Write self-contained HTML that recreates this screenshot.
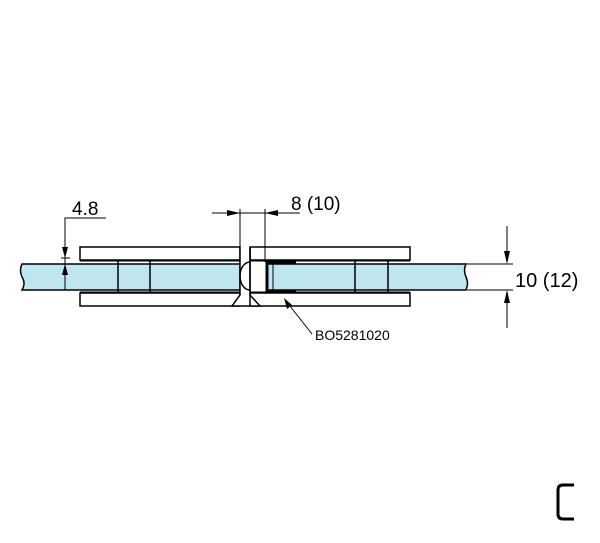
<!DOCTYPE html>
<html><head><style>html,body{margin:0;padding:0;background:#fff}svg{display:block}</style></head><body>
<svg width="600" height="543" viewBox="0 0 600 543" xmlns="http://www.w3.org/2000/svg" font-family="Liberation Sans, sans-serif">
<g stroke="#000" stroke-width="1.5" fill="none">
<path d="M22,264 L240,264 L240,290 L22,290 Q26,283 22,277 Q19,270 22,264Z" fill="#bfe5f1"/>
<path d="M267,264 L466,264 Q463,270 466,277 Q469,283 466,290 L267,290Z" fill="#bfe5f1"/>
<rect x="80" y="247" width="160" height="13" fill="#fff"/>
<rect x="250" y="247" width="160" height="13" fill="#fff"/>
<rect x="80" y="293" width="160" height="13" fill="#fff"/>
<rect x="250" y="293" width="160" height="13" fill="#fff"/>
<path d="M240,247 V295 L232,306 H260 L250,295 V247" fill="#fff"/>
<line x1="250" y1="247" x2="250" y2="306"/>
<path d="M250,262 A10,14 0 0 0 250,290"/>
<line x1="118" y1="261" x2="118" y2="293"/>
<line x1="150" y1="261" x2="150" y2="293"/>
<line x1="355" y1="261" x2="355" y2="293"/>
<line x1="388" y1="261" x2="388" y2="293"/>
<line x1="80" y1="261" x2="240" y2="261" stroke-width="1"/>
<line x1="250" y1="261" x2="410" y2="261" stroke-width="1"/>
<line x1="250" y1="292" x2="410" y2="292" stroke-width="1"/>
<line x1="80" y1="292" x2="240" y2="292" stroke-width="1"/>
</g>
<path d="M296,263 H267 V291 H296" stroke="#000" stroke-width="3" fill="none"/>
<line x1="273" y1="264" x2="273" y2="290" stroke="#000" stroke-width="1"/>
<g stroke="#000" stroke-width="1" fill="none">
<path d="M106,218 H65 V290"/>
<line x1="61" y1="258" x2="70" y2="258"/>
<line x1="61" y1="264" x2="70" y2="264"/>
<line x1="212" y1="213" x2="300" y2="213"/>
<line x1="240" y1="209" x2="240" y2="250"/>
<line x1="265" y1="209" x2="265" y2="262"/>
<line x1="467" y1="264" x2="513" y2="264"/>
<line x1="467" y1="290" x2="513" y2="290"/>
<line x1="507" y1="226" x2="507" y2="262"/>
<line x1="507" y1="292" x2="507" y2="328"/>
<line x1="286" y1="301" x2="312" y2="334"/>
</g>
<g fill="#000">
<path d="M65,258 L62,247 L68,247Z"/>
<path d="M65,264 L62,275 L68,275Z"/>
<path d="M240,213 L227,210 L227,216Z"/>
<path d="M265,213 L278,210 L278,216Z"/>
<path d="M507,264 L504,251 L510,251Z"/>
<path d="M507,290 L504,303 L510,303Z"/>
<path d="M284,298 L287,309 L292,305Z"/>
</g>
<g font-size="19" fill="#000">
<text x="72" y="215">4.8</text>
<text x="291" y="210">8 (10)</text>
<text x="515" y="287" font-size="20">10 (12)</text>
<text x="315" y="340" font-size="14">BO5281020</text>
</g>
<path d="M574,485 H563 Q558,485 558,490 V514 Q558,519 563,519 H574" stroke="#000" stroke-width="3" fill="none"/>
</svg>
</body></html>
